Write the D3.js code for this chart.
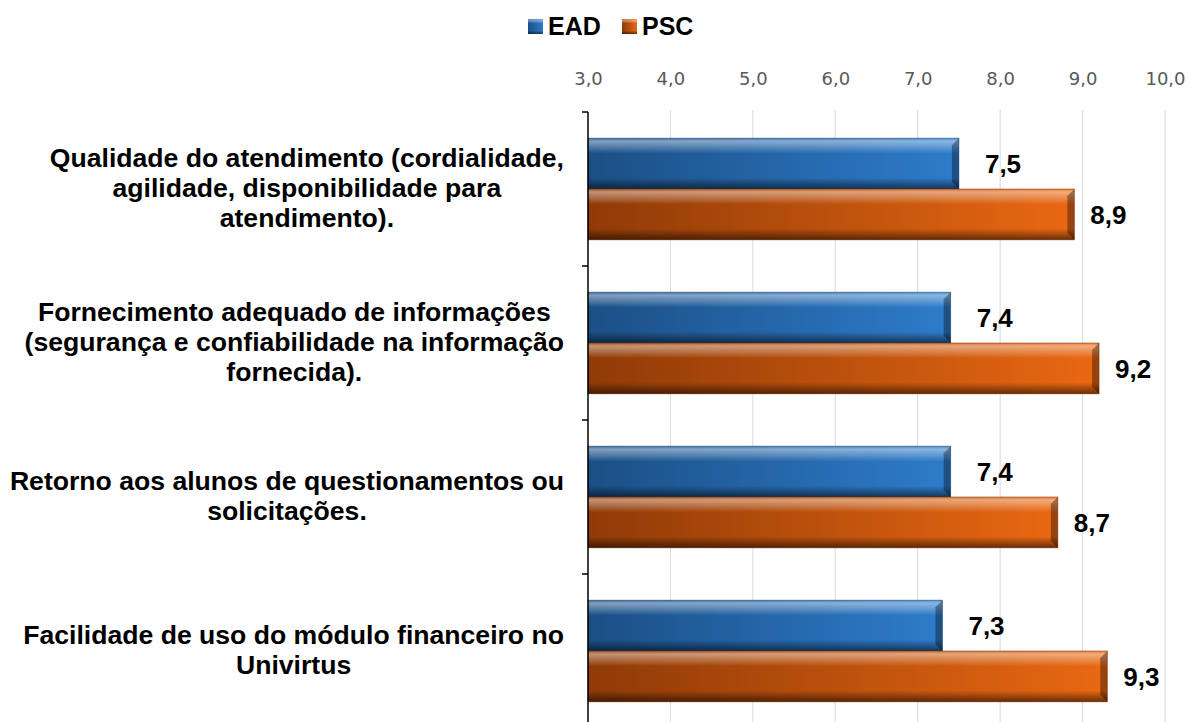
<!DOCTYPE html>
<html>
<head>
<meta charset="utf-8">
<script src="https://cdn.jsdelivr.net/npm/d3@7"></script>
<style>
  body { margin: 0; background: #fff; }
  svg { display: block; }
</style>
</head>
<body>
<svg id="chart" width="1189" height="722"></svg>
<script>
// data
const categories = [
  ["Qualidade do atendimento (cordialidade,", "agilidade, disponibilidade para", "atendimento)."],
  ["Fornecimento adequado de informações", "(segurança e confiabilidade na informação", "fornecida)."],
  ["Retorno aos alunos de questionamentos ou", "solicitações."],
  ["Facilidade de uso do módulo financeiro no", "Univirtus"]
];
const seriesNames = ["EAD", "PSC"];
const eadValues = [7.5, 7.4, 7.4, 7.3];
const pscValues = [8.9, 9.2, 8.7, 9.3];
const tickValues = [3, 4, 5, 6, 7, 8, 9, 10];

const svg = d3.select("#chart");
const catIds = categories.map((c, i) => i);

const x = d3.scaleLinear().domain([3, 10]).range([588, 1165]);
const y0 = d3.scaleBand().domain(catIds).range([112, 728]).padding(0);
const y1 = d3.scaleBand().domain(seriesNames)
  .range([y0.bandwidth() * 0.17, y0.bandwidth() * 0.83]);

const rows = [];
catIds.forEach(i => {
  rows.push({cat: i, s: "EAD", v: eadValues[i]});
  rows.push({cat: i, s: "PSC", v: pscValues[i]});
});

// gradients
const defs = svg.append("defs");
const colors = {
  EAD: {left: "#1b4f85", right: "#2e7ccb", edge: "#163f6b"},
  PSC: {left: "#8f3a07", right: "#ea6812", edge: "#6e2c05"}
};
seriesNames.forEach(s => {
  const g = defs.append("linearGradient").attr("id", "h" + s)
    .attr("x1", 0).attr("x2", 1).attr("y1", 0).attr("y2", 0);
  g.append("stop").attr("offset", 0).attr("stop-color", colors[s].left);
  g.append("stop").attr("offset", 1).attr("stop-color", colors[s].right);
});
const vg = defs.append("linearGradient").attr("id", "shade")
  .attr("x1", 0).attr("x2", 0).attr("y1", 0).attr("y2", 1);
[[0, "#fff", 0.15], [0.06, "#fff", 0.45], [0.2, "#fff", 0.2], [0.3, "#fff", 0],
 [0.78, "#000", 0], [0.86, "#000", 0.2], [1, "#000", 0.55]].forEach(d => {
  vg.append("stop").attr("offset", d[0]).attr("stop-color", d[1]).attr("stop-opacity", d[2]);
});

// legend
const legend = svg.append("g");
const legendX = {EAD: 528, PSC: 622};
seriesNames.forEach(s => {
  const g = legend.append("g").attr("transform", `translate(${legendX[s]},19)`);
  g.append("rect").attr("width", 15).attr("height", 15).attr("fill", `url(#h${s})`);
  g.append("rect").attr("width", 15).attr("height", 15).attr("fill", "url(#shade)");
  g.append("text").attr("x", 20).attr("y", 16)
    .attr("font-family", "Liberation Sans, Arial, sans-serif")
    .attr("font-weight", "bold").attr("font-size", 25).attr("fill", "#000")
    .text(s);
});

// grid + top axis
svg.append("g").selectAll("line").data(tickValues.slice(1)).join("line")
  .attr("x1", d => x(d)).attr("x2", d => x(d))
  .attr("y1", 110).attr("y2", 722)
  .attr("stroke", "#d9d9d9").attr("stroke-width", 1);

const xAxis = svg.append("g").attr("transform", "translate(0,88)")
  .call(d3.axisTop(x).tickValues(tickValues).tickSize(0)
    .tickFormat(d => d3.format(".1f")(d).replace(".", ",")));
xAxis.select(".domain").remove();
xAxis.selectAll("text")
  .attr("font-family", "DejaVu Sans, sans-serif").attr("font-size", 18)
  .attr("fill", "#595959");

// bars
const bars = svg.append("g").selectAll("g.bar").data(rows).join("g").attr("class", "bar")
  .attr("transform", d => `translate(${x(3)},${y0(d.cat) + y1(d.s)})`);
bars.append("rect")
  .attr("width", d => x(d.v) - x(3)).attr("height", y1.bandwidth())
  .attr("fill", d => `url(#h${d.s})`);
bars.append("rect")
  .attr("width", d => x(d.v) - x(3)).attr("height", y1.bandwidth())
  .attr("fill", "url(#shade)");
// right bevel
bars.append("path")
  .attr("d", d => {
    const w = x(d.v) - x(3), h = y1.bandwidth(), b = 7;
    return `M${w},0 L${w},${h} L${w - b},${h - b} L${w - b},${b} Z`;
  })
  .attr("fill", "#000").attr("fill-opacity", 0.35);
bars.append("rect")
  .attr("width", d => x(d.v) - x(3)).attr("height", y1.bandwidth())
  .attr("fill", "none").attr("stroke", d => colors[d.s].edge).attr("stroke-width", 0.8)
  .attr("stroke-opacity", 0.6);

// value labels
svg.append("g").selectAll("text").data(rows).join("text")
  .attr("x", d => x(d.v) + (d.s === "EAD" ? 26 : 16))
  .attr("y", d => y0(d.cat) + y1(d.s) + y1.bandwidth() / 2)
  .attr("dy", "0.36em")
  .attr("font-family", "Liberation Sans, Arial, sans-serif")
  .attr("font-weight", "bold").attr("font-size", 26).attr("fill", "#000")
  .text(d => d3.format(".1f")(d.v).replace(".", ","));

// left axis
svg.append("line").attr("x1", x(3)).attr("x2", x(3)).attr("y1", 112).attr("y2", 722)
  .attr("stroke", "#000").attr("stroke-width", 1.5);
svg.append("g").selectAll("line").data(catIds.concat([4])).join("line")
  .attr("x1", x(3) - 6).attr("x2", x(3))
  .attr("y1", d => 112 + d * y0.step()).attr("y2", d => 112 + d * y0.step())
  .attr("stroke", "#000").attr("stroke-width", 1.5);

// category labels
const labelRight = 564, lineH = 30;
catIds.forEach(i => {
  const lines = categories[i];
  const g = svg.append("g");
  const texts = g.selectAll("text").data(lines).join("text")
    .attr("font-family", "Liberation Sans, Arial, sans-serif")
    .attr("font-weight", "bold").attr("font-size", 26.6).attr("fill", "#000")
    .attr("text-anchor", "middle")
    .text(d => d);
  let maxW = 0;
  texts.each(function() { maxW = Math.max(maxW, this.getComputedTextLength()); });
  const cy = y0(i) + y0.bandwidth() / 2 - 2;
  texts.attr("x", labelRight - maxW / 2)
    .attr("y", (d, k) => cy + (k - (lines.length - 1) / 2) * lineH)
    .attr("dy", "0.36em");
});
</script>
</body>
</html>
